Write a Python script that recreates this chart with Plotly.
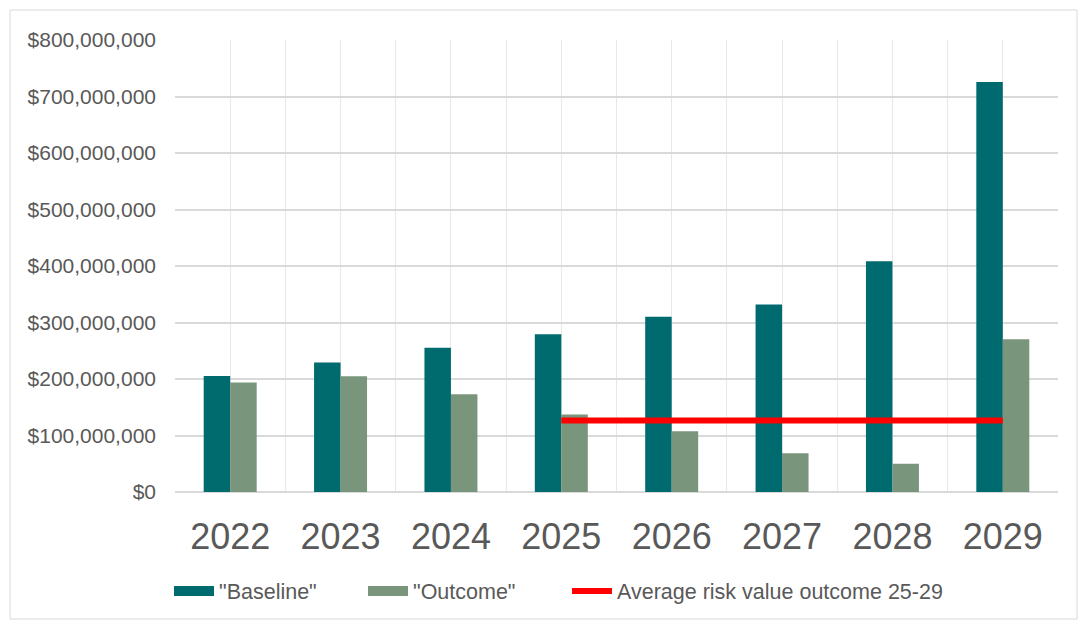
import plotly.graph_objects as go

years = [2022, 2023, 2024, 2025, 2026, 2027, 2028, 2029]
baseline = [205.5e6, 229e6, 255.5e6, 279e6, 310e6, 332e6, 408.5e6, 725.5e6]
outcome = [194e6, 205e6, 173e6, 137e6, 107.5e6, 68.5e6, 50e6, 270.5e6]
avg_years = [2025, 2029]
avg_value = sum(outcome[3:8]) / 5

W, H = 1078, 620
L, R, T, B = 175, 20, 40, 128
pw, ph = W - L - R, H - T - B

font = "Liberation Sans, Arial, sans-serif"
grey = "#595959"
c_base = "#006B6F"
c_out = "#79957C"

fig = go.Figure()
fig.add_trace(go.Bar(x=years, y=baseline, name='"Baseline"', marker=dict(color=c_base, line=dict(width=0)),
                     showlegend=False))
fig.add_trace(go.Bar(x=years, y=outcome, name='"Outcome"', marker=dict(color=c_out, line=dict(width=0)),
                     showlegend=False))
# legend entries drawn as wide rectangles
fig.add_trace(go.Scatter(x=[None], y=[None], mode="lines", name='"Baseline"',
                         line=dict(color=c_base, width=10), legend="legend"))
fig.add_trace(go.Scatter(x=[None], y=[None], mode="lines", name='"Outcome"',
                         line=dict(color=c_out, width=10), legend="legend"))
fig.add_trace(go.Scatter(x=avg_years, y=[avg_value, avg_value], mode="lines",
                         name="Average risk value outcome 25-29",
                         line=dict(color="#FF0000", width=6), legend="legend2"))

leg_y = (T + ph - 591) / ph
fig.update_layout(
    width=W, height=H,
    margin=dict(l=L, r=R, t=T, b=B, autoexpand=False),
    paper_bgcolor="white", plot_bgcolor="white",
    barmode="group", bargap=0.52, bargroupgap=0,
    font=dict(family=font, color=grey),
    showlegend=True,
    legend=dict(orientation="h", x=(169 - L) / pw, xanchor="left", y=leg_y,
                yanchor="middle", font=dict(size=21.5, color=grey), traceorder="normal",
                itemwidth=40, entrywidth=139, bgcolor="rgba(0,0,0,0)"),
    legend2=dict(orientation="h", x=(567 - L) / pw, xanchor="left", y=leg_y,
                 yanchor="middle", font=dict(size=21.5, color=grey),
                 itemwidth=40, bgcolor="rgba(0,0,0,0)"),
    xaxis=dict(
        range=[2021.5, 2029.5], tickmode="array", tickvals=years, ticktext=[str(y) for y in years],
        tickfont=dict(size=36, color=grey), showgrid=True, gridcolor="#e8e8e8", gridwidth=1,
        minor=dict(dtick=0.5, tick0=2021.5, showgrid=True, gridcolor="#e8e8e8", gridwidth=1),
        zeroline=False, showline=False, ticks="", ticklabelstandoff=20, fixedrange=True,
        automargin=False,
    ),
    yaxis=dict(
        range=[0, 800e6], dtick=100e6, tickprefix="$", tickformat=",d",
        tickfont=dict(size=21, color=grey), showgrid=True, gridcolor="#d9d9d9", gridwidth=1.5,
        zeroline=True, zerolinecolor="#d9d9d9", zerolinewidth=2, showline=False, ticks="",
        ticklabelstandoff=18, fixedrange=True, automargin=False,
    ),
    shapes=[dict(type="rect", xref="paper", yref="paper",
                 x0=(10 - L) / pw, x1=(W - 1 - L) / pw,
                 y0=(T + ph - (H - 1)) / ph, y1=(T + ph - 10) / ph,
                 line=dict(color="#d9d9d9", width=1), fillcolor="rgba(0,0,0,0)", layer="below")],
)

fig.write_html("out.html")
